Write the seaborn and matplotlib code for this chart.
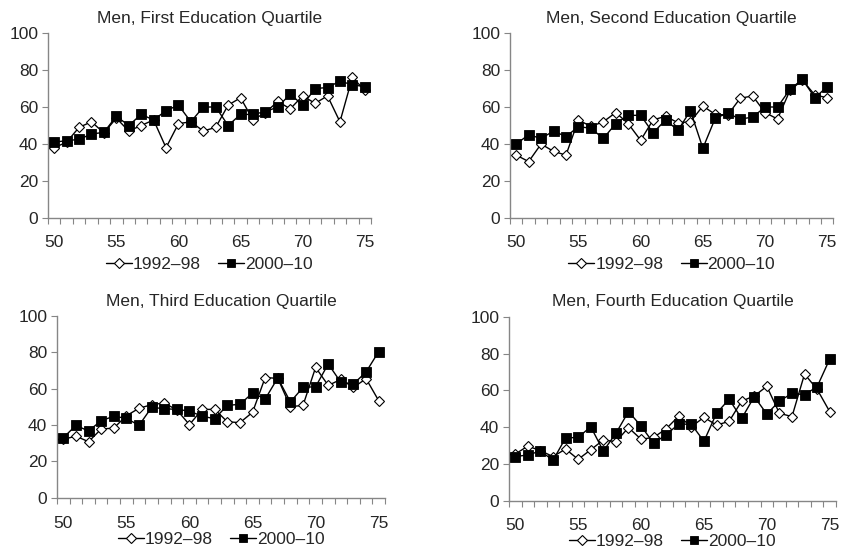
import numpy as np
import pandas as pd
import seaborn as sns
import matplotlib
matplotlib.use("Agg")
import matplotlib.pyplot as plt
from matplotlib.ticker import FixedLocator

sns.set_style("white")
plt.rcParams['font.family'] = ['Liberation Sans', 'DejaVu Sans']

ages = list(range(50, 76))
series_names = ["1992\u201398", "2000\u201310"]
titles = [
    "Men, First Education Quartile",
    "Men, Second Education Quartile",
    "Men, Third Education Quartile",
    "Men, Fourth Education Quartile",
]

q1_1992 = [38, 41, 49, 52, 46, 54, 47, 50, 53, 38, 51, 52, 47, 49, 61, 65,
           53, 57, 63, 59, 66, 62, 66, 52, 76, 69]
q1_2000 = [41, 41.8, 42.5, 45.4, 46.3, 55, 50, 56, 53, 58, 61, 52, 60, 60, 50, 56,
           56, 57.5, 60, 67, 61, 70, 70.5, 74, 72, 71]

q2_1992 = [34, 30.5, 40, 36, 34, 53, 49.5, 52, 57, 51, 42, 53, 55, 51.5, 52, 60.5,
           56, 55.7, 64.7, 66, 57, 53.5, 69, 74.5, 66.5, 65]
q2_2000 = [40, 45, 43, 47, 44, 49.4, 48.5, 43, 51, 55.5, 55.5, 46, 53, 47.4, 58, 37.7,
           54, 56.6, 53.5, 54.5, 60, 60, 69.5, 75, 65, 71]

q3_1992 = [32.1, 33.9, 30.8, 37.8, 38.3, 45.1, 49.2, 51.2, 52.1, 48.3, 40.2, 48.6, 48.6,
           41.8, 41.3, 47.0, 66.1, 65.7, 50.1, 50.8, 71.7, 61.8, 65.1, 60.7, 65.5, 53.4]
q3_2000 = [33.0, 39.8, 36.7, 42.4, 44.8, 43.7, 39.8, 49.7, 49.0, 48.6, 47.7, 44.8, 43.5,
           50.8, 51.4, 57.6, 54.3, 65.9, 52.7, 60.7, 61.1, 73.6, 63.5, 62.6, 69.2, 80.4]

q4_1992 = [25.5, 29.8, 27.3, 24.1, 28.2, 22.6, 27.8, 33.1, 32.2, 39.8, 33.5, 34.5, 39.2,
           46.1, 40.3, 45.4, 41.2, 43.2, 54.2, 57.0, 62.2, 47.6, 45.8, 68.9, 60.6, 48.5]
q4_2000 = [24.1, 25.0, 27.1, 22.1, 34.2, 34.5, 40.3, 27.1, 36.7, 48.5, 40.7, 31.3, 36.0,
           41.8, 41.6, 32.4, 47.6, 55.2, 44.8, 56.6, 47.2, 54.2, 58.4, 57.7, 62.0, 77.0]

panels = [(q1_1992, q1_2000), (q2_1992, q2_2000), (q3_1992, q3_2000), (q4_1992, q4_2000)]

W, H = 841, 547
fig = plt.figure(figsize=(W / 100, H / 100), dpi=100)

# axes rectangles in pixels: left, top(of 100), right, bottom(of 0)
rects_px = [
    (48, 33, 371, 218),
    (510, 33, 833.5, 218),
    (57, 316, 385, 497.7),
    (509, 316.7, 836, 501),
]
legend_offset_px = [46, 46, 42, 40]
label_pad_pt = [12.5, 12.5, 13, 12.5]

spine_col = "#868686"
fs = 12.5

for i, ((a, b), (l, t, r, bt)) in enumerate(zip(panels, rects_px)):
    ax = fig.add_axes([l / W, 1 - bt / H, (r - l) / W, (bt - t) / H])
    df = pd.DataFrame({"age": ages * 2,
                       "value": list(a) + list(b),
                       "period": [series_names[0]] * len(ages) + [series_names[1]] * len(ages)})
    d1 = df[df.period == series_names[0]]
    d2 = df[df.period == series_names[1]]
    sns.lineplot(data=d1, x="age", y="value", ax=ax, color="black", lw=1.0,
                 marker="D", markersize=5.2, markerfacecolor="white",
                 markeredgecolor="black", markeredgewidth=0.8,
                 label=series_names[0], zorder=3)
    sns.lineplot(data=d2, x="age", y="value", ax=ax, color="black", lw=1.0,
                 marker="s", markersize=7.0, markerfacecolor="black",
                 markeredgecolor="black", markeredgewidth=0.6,
                 label=series_names[1], zorder=4)
    ax.set_xlim(49.5, 75.5)
    ax.set_ylim(0, 100)
    ax.set_xlabel("")
    ax.set_ylabel("")
    ax.set_yticks([0, 20, 40, 60, 80, 100])
    ax.set_xticks([50, 55, 60, 65, 70, 75])
    ax.xaxis.set_minor_locator(FixedLocator(np.arange(49.5, 76, 1)))
    ax.tick_params(axis="x", which="major", length=0, labelsize=fs, pad=label_pad_pt[i])
    ax.tick_params(axis="x", which="minor", length=4, width=0.8, color=spine_col,
                   direction="out", bottom=True)
    ax.tick_params(axis="y", which="major", length=4, width=0.8, color=spine_col,
                   direction="out", left=True, labelsize=fs, pad=3)
    for s in ["top", "right"]:
        ax.spines[s].set_visible(False)
    for s in ["left", "bottom"]:
        ax.spines[s].set_color(spine_col)
        ax.spines[s].set_linewidth(1.0)
    ax.set_title(titles[i], fontsize=fs, pad=7.5)
    yc = -legend_offset_px[i] / (bt - t)
    leg = ax.legend(loc="center", bbox_to_anchor=(0.5, yc), ncol=2, frameon=False,
                    fontsize=fs, handlelength=1.5, handletextpad=0.05, columnspacing=1.0,
                    borderaxespad=0, borderpad=0, markerscale=0.9)

fig.savefig("out.png", dpi=100)
